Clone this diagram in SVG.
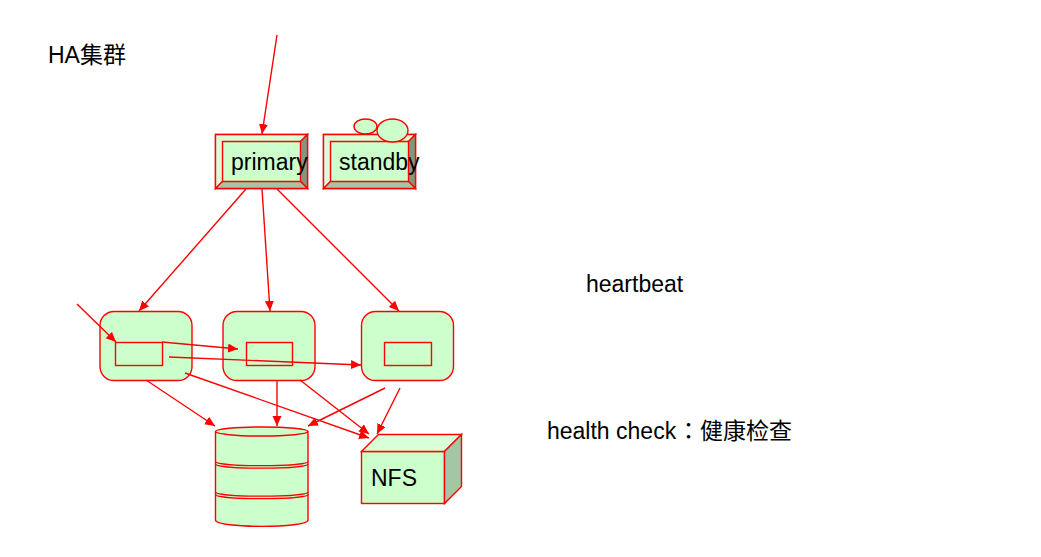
<svg xmlns="http://www.w3.org/2000/svg" width="1041" height="557" viewBox="0 0 1041 557">
<style>
.s{stroke:#f00;stroke-width:1.4;fill:#cfc}
.d{stroke:#f00;stroke-width:1.4;fill:#7f997f}
.m{stroke:#f00;stroke-width:1.4;fill:#a3c6a3}
.l{stroke:#f00;stroke-width:1.4;fill:#d9ffd9}
.n{stroke:#f00;stroke-width:1.4;fill:none}
.t{font-family:"Liberation Sans","Noto Sans CJK SC",sans-serif;font-size:23px;fill:#000}
.tc{font-family:"Noto Sans CJK TC",sans-serif}
.c line{stroke:#f00;stroke-width:1.4;marker-end:url(#a)}
</style>
<defs><marker id="a" markerUnits="userSpaceOnUse" markerWidth="11" markerHeight="10" refX="10" refY="4.500" orient="auto"><path d="M0 0L10 4.500L0 9Z" fill="#f00"/></marker></defs>
<g id="title"><text class="t" x="48" y="62.500">HA集群</text></g>
<g id="heartbeat"><text class="t" x="586" y="292">heartbeat</text></g>
<g id="health"><text class="t" x="547" y="438.500">health check<tspan class="tc" x="677">：</tspan>健康检查</text></g>
<g id="primary">
<rect class="s" x="215.500" y="134.500" width="92" height="54"/>
<path class="l" d="M215.500 134.500H307.500L300.500 141.500H222.500V181.500L215.500 188.500Z"/>
<path class="d" d="M307.500 134.500V188.500L300.500 181.500V141.500Z"/>
<path class="m" d="M215.500 188.500H307.500L300.500 181.500H222.500Z"/>
<text class="t" x="231" y="169.500">primary</text>
</g>
<g id="standby">
<rect class="s" x="323.500" y="134.500" width="92" height="54"/>
<path class="l" d="M323.500 134.500H415.500L408.500 141.500H330.500V181.500L323.500 188.500Z"/>
<path class="d" d="M415.500 134.500V188.500L408.500 181.500V141.500Z"/>
<path class="m" d="M323.500 188.500H415.500L408.500 181.500H330.500Z"/>
<text class="t" x="339" y="169.500">standby</text>
<ellipse class="s" cx="365.500" cy="126.500" rx="11.500" ry="7.500"/>
<ellipse class="s" cx="392.500" cy="130.500" rx="15.500" ry="11.500"/>
</g>
<g id="node1"><rect class="s" x="100" y="311.500" width="92" height="69" rx="14"/><rect class="s" x="115.500" y="342.500" width="47" height="23"/></g>
<g id="node2"><rect class="s" x="223" y="311.500" width="92" height="69" rx="14"/><rect class="s" x="246.500" y="342.500" width="46" height="23"/></g>
<g id="node3"><rect class="s" x="361.500" y="311.500" width="92" height="69" rx="14"/><rect class="s" x="384.500" y="342.500" width="47" height="23"/></g>
<g id="storage">
<path class="s" d="M215.500 432V520C215.500 528.500 308 528.500 308 520V432Z"/>
<path class="n" d="M215.500 461.500C215.500 467 308 467 308 461.500M215.500 464C215.500 469.500 308 469.500 308 464M215.500 492C215.500 497.500 308 497.500 308 492M215.500 494.500C215.500 500 308 500 308 494.500"/>
<ellipse class="s" cx="261.750" cy="431.500" rx="46.250" ry="4.500"/>
</g>
<g id="nfs">
<rect class="s" x="361.500" y="451.500" width="83" height="52"/>
<path class="l" d="M361.500 451.500L378.500 434.500H461.500L444.500 451.500Z"/>
<path class="m" d="M444.500 451.500L461.500 434.500V486.500L444.500 503.500Z"/>
<text class="t" x="371" y="486">NFS</text>
</g>
<g id="connectors" class="c">
<line x1="277" y1="35" x2="262" y2="134"/>
<line x1="246" y1="189" x2="139" y2="311"/>
<line x1="262" y1="189" x2="270" y2="311"/>
<line x1="277" y1="189" x2="399" y2="311"/>
<line x1="77" y1="304" x2="116" y2="342"/>
<line x1="162" y1="342" x2="238" y2="349"/>
<line x1="169" y1="357" x2="361" y2="365"/>
<line x1="146" y1="380" x2="215" y2="426"/>
<line x1="185" y1="373" x2="369" y2="438"/>
<line x1="277" y1="381" x2="277" y2="426"/>
<line x1="300" y1="380" x2="369" y2="434"/>
<line x1="385" y1="388" x2="308" y2="426"/>
<line x1="400" y1="388" x2="377" y2="434"/>
</g>
</svg>
